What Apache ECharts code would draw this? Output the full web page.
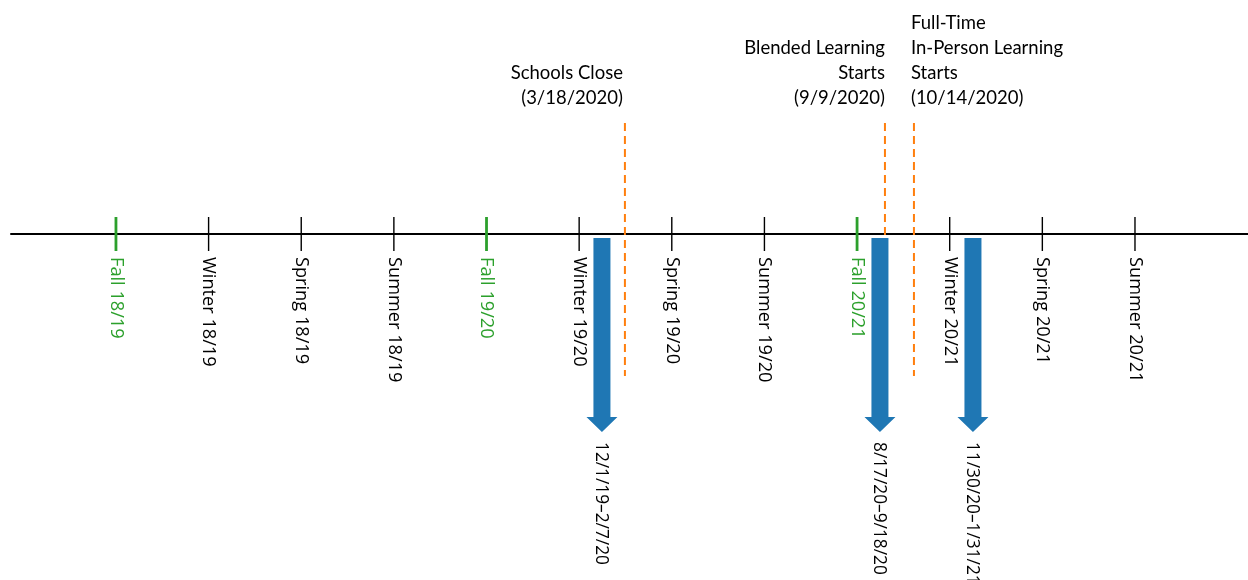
<!DOCTYPE html>
<html><head><meta charset="utf-8">
<script src="https://cdn.jsdelivr.net/npm/echarts@6/dist/echarts.min.js"></script>
<style>html,body{margin:0;padding:0;background:#fff}#c{width:1248px;height:580px}</style>
</head><body><div id="c"></div>
<script>
// Timeline seasons (tick labels) and their positions on the timeline (season index)
const seasons = ['Fall 18/19','Winter 18/19','Spring 18/19','Summer 18/19',
                 'Fall 19/20','Winter 19/20','Spring 19/20','Summer 19/20',
                 'Fall 20/21','Winter 20/21','Spring 20/21','Summer 20/21'];
const seasonPos = [0,1,2,3,4,5,6,7,8,9,10,11];
// Key events (dashed lines), position in season units
const eventNames = ['Schools Close\n(3/18/2020)',
                    'Blended Learning\nStarts\n(9/9/2020)',
                    'Full-Time\nIn-Person Learning\nStarts\n(10/14/2020)'];
const eventPos = [5.494, 8.301, 8.614];
// Data-collection windows (arrows)
const windowLabels = ['12/1/19\u20132/7/20','8/17/20\u20139/18/20','11/30/20\u20131/31/21'];
const windowPos = [5.246, 8.247, 9.251];

const GREEN = '#2ca02c', ORANGE = '#ff7f0e', BLUE = '#1f77b4';
const tickFamily = 'Open Sans', tickSize = 18.2, arrowSize = 17.3;
const eventFamily = 'Lato', eventSize = 18.5;

const chart = echarts.init(document.getElementById('c'), null, {renderer:'canvas'});
chart.setOption({
  animation: false,
  grid: {left: 11, right: 0, top: 0, bottom: 0},
  xAxis: {type: 'value', min: -1.133, max: 12.22,
    axisLine: {show: true, onZero: true, lineStyle: {color: '#000', width: 2}},
    axisTick: {show: false}, axisLabel: {show: false}, splitLine: {show: false}},
  yAxis: {type: 'value', min: -346, max: 234, show: false},
  series: [
    { // season ticks + labels
      type: 'custom', encode: {x: 0, y: 1},
      data: seasonPos.map((p, i) => [p, 0, i]),
      renderItem: (params, api) => {
        const pt = api.coord([api.value(0), 0]);
        const i = api.value(2);
        const green = seasons[i].indexOf('Fall') === 0;
        const col = green ? GREEN : '#000';
        const w = green ? 2.8 : 1.4;
        return {type: 'group', children: [
          {type: 'rect', shape: {x: pt[0] - w / 2, y: pt[1] - 17, width: w, height: 34}, style: {fill: col}},
          {type: 'text', x: pt[0], y: pt[1] + 23, rotation: -Math.PI / 2,
            style: {text: seasons[i], align: 'left', verticalAlign: 'middle',
              fontFamily: tickFamily, fontSize: tickSize, fill: col}}
        ]};
      }
    },
    { // event dashed lines + labels
      type: 'custom', encode: {x: 0, y: 1},
      data: eventPos.map((p, i) => [p, 0, i]),
      renderItem: (params, api) => {
        const x = api.coord([api.value(0), 0])[0];
        const i = api.value(2);
        const top = api.coord([0, 111])[1], bot = api.coord([0, -142])[1];
        const left = i === 2;
        return {type: 'group', children: [
          {type: 'line', shape: {x1: x, y1: top, x2: x, y2: bot},
            style: {stroke: ORANGE, lineWidth: 2, lineDash: [8, 5]}},
          {type: 'text', x: left ? x - 3 : (i === 0 ? x - 2 : x), y: api.coord([0, 123])[1],
            style: {text: eventNames[i], align: left ? 'left' : 'right', verticalAlign: 'bottom',
              lineHeight: 25, fontFamily: eventFamily, fontSize: eventSize, fill: '#000'}}
        ]};
      }
    },
    { // arrows for data windows
      type: 'custom', encode: {x: 0, y: 1},
      data: windowPos.map((p, i) => [p, 0, i]),
      renderItem: (params, api) => {
        const x = api.coord([api.value(0), 0])[0];
        const i = api.value(2);
        const y0 = api.coord([0, -4])[1], y1 = api.coord([0, -183])[1], y2 = api.coord([0, -198])[1];
        const sw = 8.5, hw = 15.5;
        return {type: 'group', children: [
          {type: 'polygon', shape: {points: [[x - sw, y0], [x + sw, y0], [x + sw, y1], [x + hw, y1], [x, y2], [x - hw, y1], [x - sw, y1]]},
            style: {fill: BLUE}},
          {type: 'text', x: x - 1, y: y2 + 10, rotation: -Math.PI / 2,
            style: {text: windowLabels[i], align: 'left', verticalAlign: 'middle',
              fontFamily: tickFamily, fontSize: arrowSize, fill: '#000'}}
        ]};
      }
    }
  ]
});
</script></body></html>
